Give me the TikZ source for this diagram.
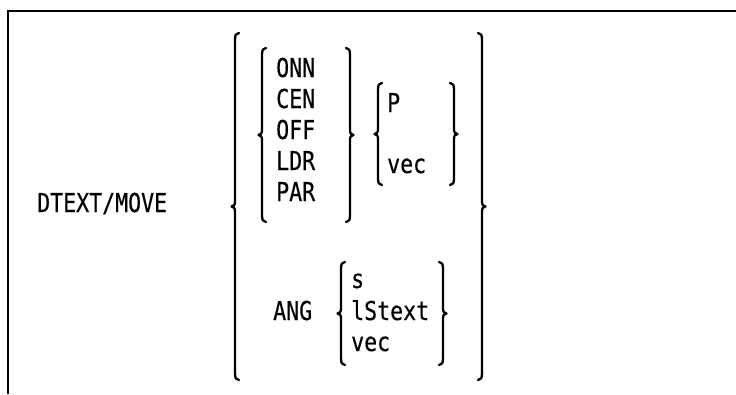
\documentclass[tikz,border=0pt]{standalone}
\usepackage{fontspec}
\newfontfamily\gfont[FakeStretch=0.83,FakeBold=0.4]{DejaVu Sans Mono}
\newcommand\BrL[3]{% left brace: x, top, bottom
  \pgfmathsetmacro\bm{(#2+#3)/2}
  \draw[brace] (#1+4,#2) .. controls (#1+1,#2) and (#1,#2+2) .. (#1,#2+7)
    -- (#1,\bm-5) .. controls (#1,\bm-1.5) and (#1-1,\bm-0.5) .. (#1-3.5,\bm)
    .. controls (#1-1,\bm+0.5) and (#1,\bm+1.5) .. (#1,\bm+5)
    -- (#1,#3-7) .. controls (#1,#3-2) and (#1+1,#3) .. (#1+4,#3);
}
\newcommand\BrR[3]{% right brace: x, top, bottom
  \pgfmathsetmacro\bm{(#2+#3)/2}
  \draw[brace] (#1-4,#2) .. controls (#1-1,#2) and (#1,#2+2) .. (#1,#2+7)
    -- (#1,\bm-5) .. controls (#1,\bm-1.5) and (#1+1,\bm-0.5) .. (#1+3.5,\bm)
    .. controls (#1+1,\bm+0.5) and (#1,\bm+1.5) .. (#1,\bm+5)
    -- (#1,#3-7) .. controls (#1,#3-2) and (#1-1,#3) .. (#1-4,#3);
}
\begin{document}
\begin{tikzpicture}[x=1pt,y=-1pt,
  word/.style={anchor=base west,inner sep=0pt,font=\gfont\fontsize{26}{26}\selectfont},
  brace/.style={line width=2.3pt,line cap=round,line join=round},
  frame/.style={line width=2pt}]
\useasboundingbox (0,0) rectangle (736,394);
% frame
\draw[frame] (7.7,394) -- (7.7,10.5) -- (736,10.5);
% command name
\node[word] (cmd) at (37,212) {DTEXT/MOVE};
% outer braces
\BrL{235}{33}{380}
\BrR{482}{33}{380}
% mode group
\node[word] (onn) at (276,77) {ONN};
\node[word] (cen) at (276,108) {CEN};
\node[word] (off) at (276,139) {OFF};
\node[word] (ldr) at (276,170) {LDR};
\node[word] (par) at (276,201) {PAR};
\BrL{262}{48}{222}
\BrR{350}{48}{222}
% point group
\node[word] (p) at (387,112) {P};
\node[word] (vec1) at (387,173) {vec};
\BrL{378}{83}{185}
\BrR{454}{83}{185}
% angle group
\node[word] (ang) at (273,320) {ANG};
\node[word] (s) at (351,288) {s};
\node[word] (istext) at (351,320) {lStext};
\node[word] (vec2) at (351,351) {vec};
\BrL{341}{262}{365}
\BrR{443}{262}{365}
\end{tikzpicture}
\end{document}
